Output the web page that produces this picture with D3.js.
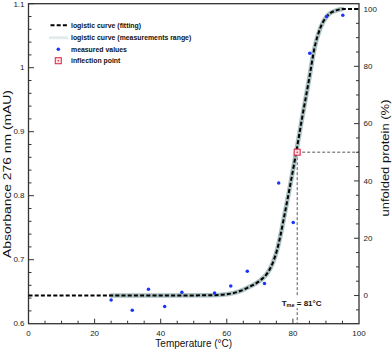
<!DOCTYPE html>
<html>
<head>
<meta charset="utf-8">
<script src="https://cdn.jsdelivr.net/npm/d3@7"></script>
<style>
  body { margin: 0; background: #fff; }
  svg { display: block; font-family: "Liberation Sans", Arial, sans-serif; }
</style>
</head>
<body>
<div id="chart"></div>
<script>
// measured points (temperature in °C, absorbance in mAU)
const measTemp = [25, 31.4, 36.3, 41.2, 46.4, 56.3, 61.2, 66.2, 71.4, 75.7, 80.1, 85.1, 90.2, 95.1]
const measAbs  = [0.637, 0.621, 0.654, 0.627, 0.649, 0.648, 0.659, 0.682, 0.663, 0.820, 0.758, 1.0225, 1.080, 1.082]

// fitted logistic curve
const curveTemp = [0, 25, 40, 55, 60, 64, 67, 70.2, 72, 73.2, 74.2, 75.2, 76.2, 77.2, 79.2, 81, 82.6, 85, 86.5, 88.3, 90.4, 93.4, 95, 100]
const curveAbs  = [0.644, 0.644, 0.644, 0.6445, 0.646, 0.651, 0.658, 0.668, 0.677, 0.687, 0.699, 0.715, 0.737, 0.763, 0.817, 0.868, 0.916, 0.985, 1.030, 1.062, 1.081, 1.090, 1.0917, 1.0917]

// measurement range of the curve
const rangeT = [25, 95]

// inflection point
const tm = 81.3
const tmAbs = 0.868
const tmLabel = '81°C'

// absorbance values that match 0 % and 100 % unfolded
const abs0 = 0.644
const abs100 = 1.0917

const xTicks = [0, 20, 40, 60, 80, 100]
const yTicks = [0.6, 0.7, 0.8, 0.9, 1, 1.1]
const pctTicks = [0, 20, 40, 60, 80, 100]

const legendLabels = ['logistic curve (fitting)', 'logistic curve (measurements range)', 'measured values', 'inflection point']

const chart = { width: 392, height: 351 }
const margin = { left: 28.5, right: 33, top: 3.7, bottom: 27.3 }
const innerW = chart.width - margin.left - margin.right
const innerH = chart.height - margin.top - margin.bottom

const frameColor = '#333'

const xScale = d3.scaleLinear().domain([0, 100]).range([0, innerW])
const yScale = d3.scaleLinear().domain([0.6, 1.1]).range([innerH, 0])
const toPct = a => (a - abs0) / (abs100 - abs0) * 100
const yPct = d3.scaleLinear().domain([toPct(0.6), toPct(1.1)]).range([innerH, 0])

const svg = d3.select('#chart').append('svg')
  .attr('width', chart.width)
  .attr('height', chart.height)

const base = svg.append('g')
  .attr('transform', `translate(${margin.left}, ${margin.top})`)

// frame
base.append('rect')
  .attr('width', innerW).attr('height', innerH)
  .attr('fill', 'none').attr('stroke', frameColor).attr('stroke-width', 1.3)

// ticks - all pointing inward
// bottom
const xMinor = d3.range(5, 100, 5)
base.append('g').selectAll('line')
  .data(xMinor).join('line')
  .attr('x1', d => xScale(d)).attr('x2', d => xScale(d))
  .attr('y1', innerH).attr('y2', d => innerH - (d % 20 === 0 ? 5 : 3))
  .attr('stroke', frameColor).attr('stroke-width', 1)
base.append('g').selectAll('text')
  .data(xTicks).join('text')
  .attr('x', d => xScale(d)).attr('y', innerH + 12.5)
  .attr('text-anchor', 'middle').attr('font-size', 8).attr('fill', '#222')
  .text(d => d)

// left
const yMinor = d3.range(0.62, 1.1, 0.02)
base.append('g').selectAll('line')
  .data(yMinor).join('line')
  .attr('x1', 0).attr('x2', d => (Math.abs(Math.round(d * 10) - d * 10) < 0.01 ? 5.5 : 3))
  .attr('y1', d => yScale(d)).attr('y2', d => yScale(d))
  .attr('stroke', frameColor).attr('stroke-width', 1)
base.append('g').selectAll('text')
  .data(yTicks).join('text')
  .attr('x', -4).attr('y', d => yScale(d)).attr('dy', '0.35em')
  .attr('text-anchor', 'end').attr('font-size', 8).attr('fill', '#222')
  .text(d => String(+d.toFixed(1)))

// right
const pMinor = d3.range(-5, 101, 5)
base.append('g').selectAll('line')
  .data(pMinor).join('line')
  .attr('x1', innerW).attr('x2', d => innerW - (d % 20 === 0 ? 5 : 3))
  .attr('y1', d => yPct(d)).attr('y2', d => yPct(d))
  .attr('stroke', frameColor).attr('stroke-width', 1)
base.append('g').selectAll('text')
  .data(pctTicks).join('text')
  .attr('x', innerW + 4.5).attr('y', d => yPct(d)).attr('dy', '0.35em')
  .attr('text-anchor', 'start').attr('font-size', 8).attr('fill', '#222')
  .text(d => d)

// axis titles
svg.append('text')
  .attr('x', margin.left + innerW / 2).attr('y', 347)
  .attr('text-anchor', 'middle').attr('font-size', 10).attr('fill', '#111')
  .text('Temperature (°C)')
svg.append('text')
  .attr('transform', 'translate(10.5, 174) rotate(-90)')
  .attr('text-anchor', 'middle').attr('font-size', 10).attr('fill', '#111')
  .attr('textLength', 168).attr('lengthAdjust', 'spacingAndGlyphs')
  .text('Absorbance 276 nm (mAU)')
svg.append('text')
  .attr('transform', 'translate(388.5, 158) rotate(-90)')
  .attr('text-anchor', 'middle').attr('font-size', 10).attr('fill', '#111')
  .attr('textLength', 117).attr('lengthAdjust', 'spacingAndGlyphs')
  .text('unfolded protein (%)')

// Tm guides
const tmX = xScale(tm), tmY = yScale(tmAbs)
base.append('line')
  .attr('x1', tmX).attr('x2', tmX).attr('y1', tmY).attr('y2', innerH)
  .attr('stroke', '#444').attr('stroke-width', 0.9).attr('stroke-dasharray', '3,2')
base.append('line')
  .attr('x1', tmX).attr('x2', innerW).attr('y1', tmY).attr('y2', tmY)
  .attr('stroke', '#444').attr('stroke-width', 0.9).attr('stroke-dasharray', '3,2')

// Tm label (white box so the guide stops)
base.append('rect')
  .attr('x', tmX - 17).attr('y', yScale(0.6415)).attr('width', 38).attr('height', 11)
  .attr('fill', '#fff')
const tmText = base.append('text')
  .attr('x', tmX - 15.5).attr('y', yScale(0.6415) + 8.5)
  .attr('font-size', 8).attr('font-weight', 'bold').attr('fill', '#111')
tmText.append('tspan').text('T')
tmText.append('tspan').attr('font-size', 5.5).attr('dy', 1.8).text('me')
tmText.append('tspan').attr('dy', -1.8).text(' = ' + tmLabel)

// curves
const curveData = curveTemp.map((t, i) => ({ t: t, a: curveAbs[i] }))
const line = d3.line()
  .x(d => xScale(d.t))
  .y(d => yScale(d.a))
  .curve(d3.curveMonotoneX)

base.append('path')
  .attr('d', line(curveData.filter(d => d.t >= rangeT[0] && d.t <= rangeT[1])))
  .attr('fill', 'none').attr('stroke', '#aac0c0').attr('stroke-width', 4.6)
  .attr('stroke-linecap', 'round')
base.append('path')
  .attr('d', line(curveData))
  .attr('fill', 'none').attr('stroke', '#000').attr('stroke-width', 2)
  .attr('stroke-dasharray', '4,2.2')

// measured values
base.append('g').selectAll('circle')
  .data(measTemp.map((t, i) => ({ t: t, a: measAbs[i] })))
  .join('circle')
  .attr('cx', d => xScale(d.t)).attr('cy', d => yScale(d.a))
  .attr('r', 1.75).attr('fill', '#1a33ff')

// inflection point marker
function marker(g, cx, cy) {
  g.append('rect')
    .attr('x', cx - 3).attr('y', cy - 3).attr('width', 6).attr('height', 6)
    .attr('fill', '#fde3e8').attr('stroke', '#e0304f').attr('stroke-width', 1.1)
  g.append('circle').attr('cx', cx).attr('cy', cy).attr('r', 0.8).attr('fill', '#c02040')
}
marker(base, tmX, tmY)

// legend
const legend = svg.append('g')
const rowY = [25.3, 37.7, 49.3, 60.7]
legend.selectAll('text')
  .data(legendLabels).join('text')
  .attr('x', 71).attr('y', (d, i) => rowY[i]).attr('dy', '0.35em')
  .attr('font-size', 6.9).attr('font-weight', 'bold').attr('fill', '#111')
  .text(d => d)
legend.append('line')
  .attr('x1', 50.5).attr('x2', 68).attr('y1', rowY[0]).attr('y2', rowY[0])
  .attr('stroke', '#000').attr('stroke-width', 2).attr('stroke-dasharray', '4,2.2')
legend.append('line')
  .attr('x1', 49).attr('x2', 68).attr('y1', rowY[1]).attr('y2', rowY[1])
  .attr('stroke', '#e3ecec').attr('stroke-width', 3)
legend.append('circle')
  .attr('cx', 58.3).attr('cy', rowY[2]).attr('r', 1.75).attr('fill', '#1a33ff')
marker(legend, 58.3, rowY[3])
</script>
</body>
</html>
